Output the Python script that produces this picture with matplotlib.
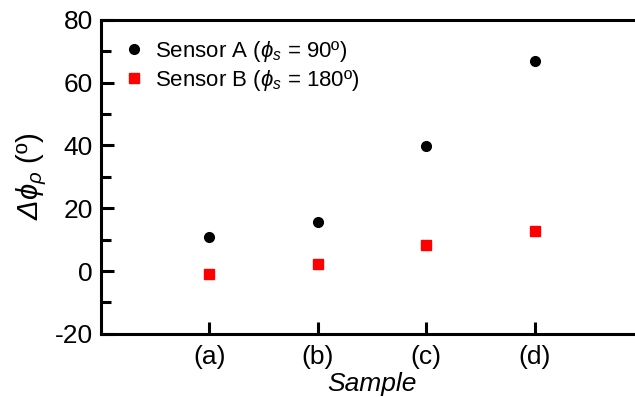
import matplotlib
matplotlib.use("Agg")
import matplotlib.pyplot as plt
from matplotlib.ticker import MultipleLocator

plt.rcParams['font.family'] = ['Liberation Sans', 'DejaVu Sans']
plt.rcParams['mathtext.fontset'] = 'custom'
plt.rcParams['mathtext.rm'] = 'Liberation Sans:italic'
plt.rcParams['mathtext.it'] = 'Liberation Sans:italic'
plt.rcParams['mathtext.bf'] = 'Liberation Sans:bold:italic'
plt.rcParams['axes.unicode_minus'] = False

categories = ['(a)', '(b)', '(c)', '(d)']
sensor_a = [10.7, 15.5, 39.9, 67.0]
sensor_b = [-1.0, 2.1, 8.4, 12.8]
label_a = r'Sensor A ($\phi_s$ = 90º)'
label_b = r'Sensor B ($\phi_s$ = 180º)'

fig = plt.figure(figsize=(6.35, 3.97), dpi=100)
ax = fig.add_axes([0.159, 0.159, 0.854, 0.791])

x = list(range(1, len(categories) + 1))
ax.plot(x, sensor_a, 'o', color='black', ms=7, label=label_a, linestyle='none')
ax.plot(x, sensor_b, 's', color='#ff0000', ms=7.5, label=label_b, linestyle='none')

ax.set_xlim(0, 5)
ax.set_ylim(-20, 80)
ax.set_xticks(x)
ax.set_xticklabels(categories)
ax.yaxis.set_major_locator(MultipleLocator(20))
ax.yaxis.set_minor_locator(MultipleLocator(10))

for s in ax.spines.values():
    s.set_linewidth(2.2)
ax.spines['right'].set_visible(False)

ax.tick_params(axis='both', which='major', direction='in', length=9, width=2.2,
               labelsize=19, pad=6)
ax.tick_params(axis='y', which='minor', direction='in', length=7, width=2.2)
ax.tick_params(axis='x', which='major', pad=8)

ax.set_xlabel('Sample', fontsize=19, style='italic', labelpad=2)
ax.set_ylabel(r'$Δϕ_ρ$ (º)', fontsize=21, labelpad=4)

leg = ax.legend(loc='upper left', bbox_to_anchor=(-0.004, 1.01), frameon=False,
                fontsize=16, handletextpad=0.35, labelspacing=0.18,
                handlelength=1.2, borderaxespad=0.6)

fig.savefig('out.png', dpi=100)
